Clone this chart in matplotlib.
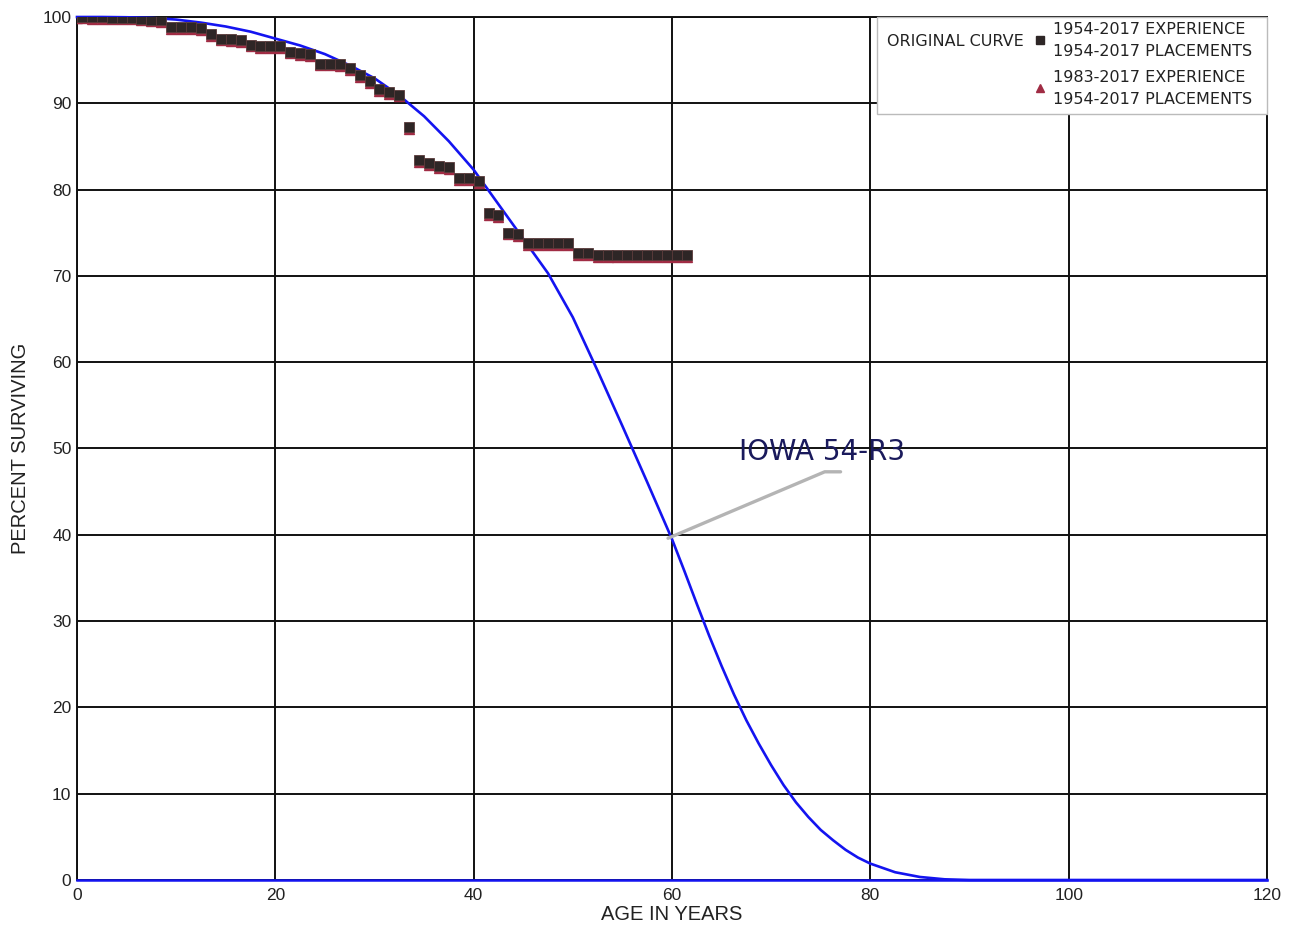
import matplotlib
matplotlib.use("Agg")
import matplotlib.pyplot as plt
from matplotlib.lines import Line2D
from matplotlib.patches import Rectangle

# ── Observed survivor data (age in years, percent surviving) ────────────────
AGES = [0, 0.5] + [i + 0.5 for i in range(1, 62)]

EXP_1954 = [100.0, 100.0, 99.95, 99.95, 99.9, 99.9, 99.9, 99.8, 99.7, 99.6,
            98.8, 98.8, 98.8, 98.7, 98.0, 97.5, 97.4, 97.3, 96.8, 96.6,
            96.6, 96.6, 96.0, 95.8, 95.7, 94.6, 94.6, 94.5, 94.1, 93.3,
            92.6, 91.6, 91.3, 91.0, 87.3, 83.4, 83.1, 82.7, 82.6, 81.3,
            81.3, 81.0, 77.3, 77.0, 75.0, 74.8, 73.8, 73.8, 73.8, 73.8,
            73.8, 72.6, 72.6, 72.4, 72.4, 72.4, 72.4, 72.4, 72.4, 72.4,
            72.4, 72.4, 72.4]

EXP_1983 = [99.85, 99.85, 99.8, 99.8, 99.75, 99.75, 99.75, 99.65, 99.55, 99.4,
            98.6, 98.6, 98.6, 98.5, 97.8, 97.3, 97.2, 97.1, 96.6, 96.4,
            96.4, 96.4, 95.8, 95.6, 95.5, 94.4, 94.4, 94.3, 93.9, 93.1,
            92.4, 91.4, 91.1, 90.8, 87.0, 83.2, 82.9, 82.5, 82.4, 81.1,
            81.1, 80.8, 77.1, 76.8, 74.8, 74.6, 73.6, 73.6, 73.6, 73.6,
            73.6, 72.4, 72.4, 72.2, 72.2, 72.2, 72.2, 72.2, 72.2, 72.2,
            72.2, 72.2, 72.2]

# Iowa 54-R3 curve
CURVE_AGES = [0, 2.5, 5, 7.5, 10, 12.5, 15, 17.5, 20, 22.5, 25, 27.5, 30,
              32.5, 35, 37.5, 40, 42.5, 45, 47.5, 50, 52.5, 55, 57.5, 60,
              61.25, 62.5, 63.75, 65, 66.25, 67.5, 68.75, 70, 71.25, 72.5,
              73.75, 75, 76.25, 77.5, 78.75, 80, 82.5, 85, 87.5, 90, 120]
CURVE_PCT = [100, 100, 99.97, 99.9, 99.7, 99.35, 98.9, 98.3, 97.5, 96.7,
             95.7, 94.4, 92.9, 90.9, 88.5, 85.6, 82.3, 78.3, 74.3, 70.3,
             65.2, 59.0, 52.6, 46.1, 39.5,
             35.8, 32.0, 28.3, 24.8, 21.5, 18.5, 15.8, 13.3, 11.0, 9.0,
             7.3, 5.8, 4.6, 3.5, 2.6, 1.9, 0.9, 0.35, 0.08, 0, 0]

CURVE_LABEL = "IOWA 54-R3"
LABEL_POINT = (59.6, 39.6)   # where the leader line touches the curve

X_TICKS = list(range(0, 121, 20))
Y_TICKS = list(range(0, 101, 10))

SQ_COLOR = "#2e2626"
TRI_COLOR = "#a02c44"
BLUE = "#1414f0"

fig = plt.figure(figsize=(12.96, 9.32), dpi=100)
fig.patch.set_facecolor("white")
ax = fig.add_axes([77 / 1296, 52 / 932, 1190 / 1296, 863 / 932])

ax.set_xlim(0, 120)
ax.set_ylim(0, 100)
ax.set_xticks(X_TICKS)
ax.set_yticks(Y_TICKS)
ax.grid(True, color="#111111", lw=1.4)
ax.set_axisbelow(True)

for s in ["top", "right", "left"]:
    ax.spines[s].set_color("#111111")
    ax.spines[s].set_linewidth(1.4)
ax.spines["bottom"].set_color(BLUE)
ax.spines["bottom"].set_linewidth(1.8)

ax.tick_params(axis="both", length=0, labelsize=12.5, colors="#222222")
ax.tick_params(axis="x", pad=6)
ax.tick_params(axis="y", pad=4)
for lab in ax.get_xticklabels() + ax.get_yticklabels():
    lab.set_family("Liberation Sans")

ax.set_xlabel("AGE IN YEARS", fontsize=14.5, family="Liberation Sans",
              color="#222222", labelpad=1)
ax.set_ylabel("PERCENT SURVIVING", fontsize=14.5, family="Liberation Sans",
              color="#222222", labelpad=9)

# curve
ax.plot(CURVE_AGES, CURVE_PCT, color=BLUE, lw=1.9, zorder=3, clip_on=False)

# observed points
ax.plot(AGES, EXP_1983, linestyle="none", marker="^", markersize=7,
        color=TRI_COLOR, markeredgecolor=TRI_COLOR, zorder=4)
ax.plot(AGES, EXP_1954, linestyle="none", marker="s", markersize=6.8,
        color=SQ_COLOR, markeredgecolor="#5a3a3a", markeredgewidth=0.6, zorder=5)

# curve label with leader line
ax.plot([LABEL_POINT[0], 75.4, 77.0], [LABEL_POINT[1], 47.3, 47.3],
        color="#b4b4b4", lw=2.4, zorder=6, solid_capstyle="round")
ax.text(66.8, 49.6, CURVE_LABEL, fontsize=20, color="#1a1a5c",
        ha="left", va="center", family="DejaVu Sans", zorder=7)

# legend box (drawn by hand: label sits left of the first marker)
def fx(px):
    return px / 1296

def fy(py):
    return 1 - py / 932

fig.add_artist(Rectangle((fx(877), fy(114)), fx(1267) - fx(877), fy(17) - fy(114),
                         transform=fig.transFigure, facecolor="white",
                         edgecolor="#bbbbbb", lw=1.0, zorder=10))
lg = dict(fontsize=11.5, family="DejaVu Sans", color="#222222",
          transform=fig.transFigure, zorder=11, va="center")
fig.text(fx(887), fy(42), "ORIGINAL CURVE", ha="left", **lg)
fig.add_artist(Line2D([fx(1040)], [fy(40)], marker="s", markersize=5.5,
                      color=SQ_COLOR, linestyle="none",
                      transform=fig.transFigure, zorder=11))
fig.text(fx(1053), fy(30), "1954-2017 EXPERIENCE", ha="left", **lg)
fig.text(fx(1053), fy(52), "1954-2017 PLACEMENTS", ha="left", **lg)
fig.add_artist(Line2D([fx(1040)], [fy(88)], marker="^", markersize=6,
                      color=TRI_COLOR, linestyle="none",
                      transform=fig.transFigure, zorder=11))
fig.text(fx(1053), fy(78), "1983-2017 EXPERIENCE", ha="left", **lg)
fig.text(fx(1053), fy(100), "1954-2017 PLACEMENTS", ha="left", **lg)

fig.savefig("out.png", dpi=100, facecolor="white")
